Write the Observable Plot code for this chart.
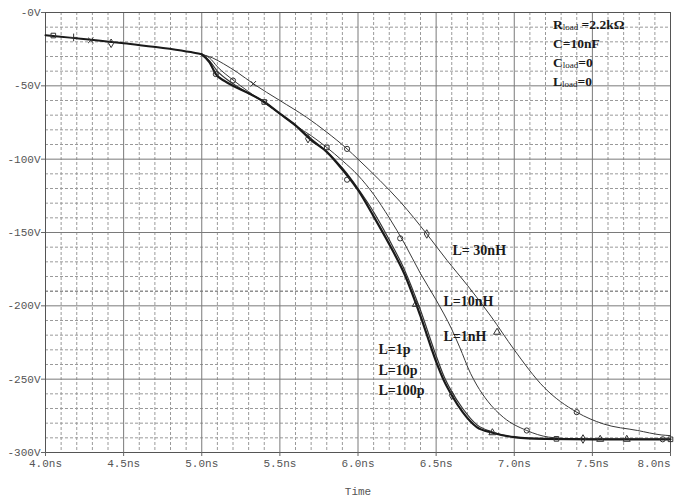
<!DOCTYPE html>
<html>
<head>
<meta charset="utf-8">
<script src="https://cdn.jsdelivr.net/npm/d3@7"></script>
<script src="https://cdn.jsdelivr.net/npm/@observablehq/plot@0.6"></script>
<style>
  html, body { margin: 0; padding: 0; background: #fff; }
  #chart { width: 678px; height: 499px; }
</style>
</head>
<body>
<div id="chart"></div>
<script>
// ---- data (time in ns, voltage in V) ----
const startT = [4.0, 4.5, 4.93, 5.0];
const startV = [-15.5, -21, -27, -28.5];

const groupT = [5.0, 5.05, 5.09, 5.15, 5.2, 5.3, 5.4, 5.5, 5.6, 5.7, 5.8, 5.9, 6.0, 6.1, 6.2, 6.3, 6.4, 6.5, 6.55, 6.6, 6.67, 6.76, 6.86, 7.0, 7.2, 7.5, 8.0];
const groupV = [-28.5, -34, -42, -47, -50, -55, -61, -69, -77, -87, -95, -107, -121, -139, -158, -179, -207, -238, -251, -261, -272.5, -282.7, -286.5, -289.5, -290.7, -291, -291];

const l1nT = [5.0, 5.05, 5.1, 5.2, 5.3, 5.4, 5.5, 5.6, 5.7, 5.8, 5.9, 6.0, 6.1, 6.2, 6.3, 6.4, 6.5, 6.55, 6.6, 6.67, 6.76, 6.86, 7.0, 7.2, 7.5, 8.0];
const l1nV = [-28.5, -33, -40, -48.5, -55, -61, -69, -77, -86, -95, -106, -120, -136, -155, -176, -203, -234, -248, -258.5, -270, -281, -286, -289.5, -290.7, -291, -291];

const l10nT = [5.0, 5.05, 5.1, 5.2, 5.3, 5.4, 5.5, 5.6, 5.7, 5.8, 5.9, 6.0, 6.1, 6.2, 6.3, 6.4, 6.5, 6.6, 6.65, 6.72, 6.76, 6.83, 6.93, 7.08, 7.22, 7.4, 8.0];
const l10nV = [-28.5, -31, -37, -46, -54, -61.5, -69, -77, -84, -92, -101, -111, -124, -140, -158, -178, -196, -216, -228, -246, -254, -265, -276, -285, -289.5, -290.8, -291];

const l30nT = [5.0, 5.07, 5.14, 5.23, 5.33, 5.5, 5.67, 5.8, 5.93, 6.0, 6.14, 6.27, 6.44, 6.57, 6.7, 6.85, 7.0, 7.19, 7.4, 7.57, 7.79, 7.94, 8.0];
const l30nV = [-28.5, -31, -35, -41, -48.6, -60, -71.4, -81.6, -93, -100, -114.5, -129, -151, -169, -186, -207, -230, -255.5, -272.5, -280.5, -285, -288, -288.5];

// markers along the traces
const markT = [4.05, 4.18, 4.29, 4.42, 5.09, 5.4, 5.68, 5.93, 6.37, 6.6, 6.86, 5.2, 5.8, 6.27, 7.08, 5.33, 5.93, 6.44, 6.89, 7.4, 7.27, 7.44, 7.55, 7.72, 7.95, 8.0];
const markV = [-15.7, -17, -19, -21, -42, -61, -86, -114, -199, -261, -286.5, -46.4, -92, -154, -285, -48.6, -93, -151, -218, -272.5, -290.7, -290.8, -291, -291, -291, -291];
const markS = ["square", "plus", "times", "diamond", "circle", "square", "diamond", "circle", "triangle", "diamond", "triangle", "circle", "square", "circle", "circle", "times", "circle", "diamond", "triangle", "circle", "square", "diamond", "triangle", "triangle", "circle", "square"];

// tick labels
const xTicks = [4.0, 4.5, 5.0, 5.5, 6.0, 6.5, 7.0, 7.5, 8.0];
const xTickLabels = ["4.0ns", "4.5ns", "5.0ns", "5.5ns", "6.0ns", "6.5ns", "7.0ns", "7.5ns", "8.0ns"];
const yTicks = [0, -50, -100, -150, -200, -250, -300];
const yTickLabels = ["-0V", "-50V", "-100V", "-150V", "-200V", "-250V", "-300V"];

// trace labels (anchored in data units)
const labelText = ["L= 30nH", "L=10nH", "L=1nH", "L=1p", "L=10p", "L=100p"];
const labelT = [6.605, 6.547, 6.547, 6.131, 6.131, 6.131];
const labelV = [-162.3, -197, -221, -229.8, -244, -257.7];

// parameter box
const infoMain = ["R", "C=10nF", "C", "L"];
const infoSub = ["load", "", "load", "load"];
const infoRest = [" =2.2k\u03A9", "", "=0", "=0"];
const infoT = 7.251;
const infoV = [-8.2, -21.1, -34.6, -47.5];

// ---- build tables ----
const toRows = (T, V) => T.map((t, i) => ({t, v: V[i]}));
const startRows = toRows(startT, startV);
const groupRows = toRows(groupT, groupV);
const l1nRows = toRows(l1nT, l1nV);
const l10nRows = toRows(l10nT, l10nV);
const l30nRows = toRows(l30nT, l30nV);
const markRows = markT.map((t, i) => ({t, v: markV[i], s: markS[i]}));
const labelRows = labelText.map((s, i) => ({s, t: labelT[i], v: labelV[i]}));

const minorX = d3.range(4.1, 8.0, 0.1).filter(d => Math.abs(d * 2 - Math.round(d * 2)) > 1e-6);
const minorY = d3.range(-10, -300, -10).filter(d => d % 50 !== 0 && d !== -190);

const lineStyle = {x: "t", y: "v", curve: "monotone-x"};
const monoFont = "Liberation Mono, DejaVu Sans Mono, monospace";

const plot = Plot.plot({
  width: 678,
  height: 499,
  marginLeft: 45,
  marginRight: 8,
  marginTop: 12,
  marginBottom: 47,
  style: {background: "#fff", overflow: "visible"},
  x: {domain: [4, 8]},
  y: {domain: [-300, 0]},
  symbol: {type: "identity"},
  marks: [
    // minor dashed grid
    Plot.ruleX(minorX, {stroke: "#9a9a9a", strokeWidth: 1, strokeDasharray: "3,2"}),
    Plot.ruleY(minorY, {stroke: "#9a9a9a", strokeWidth: 1, strokeDasharray: "3,2"}),
    Plot.ruleY([-190], {stroke: "#555", strokeWidth: 1, strokeDasharray: "3,2"}),
    // major solid grid
    Plot.ruleX(xTicks, {stroke: "#7a7a7a", strokeWidth: 1}),
    Plot.ruleY(yTicks, {stroke: "#7a7a7a", strokeWidth: 1}),
    Plot.frame({stroke: "#555", strokeWidth: 1}),
    // axes
    Plot.axisX(xTicks.slice(0, -1), {tickFormat: (d, i) => xTickLabels[i], tickSize: 4, tickPadding: 3, stroke: "#666",
      fontFamily: monoFont, fontSize: 11, fill: "#555", label: null}),
    Plot.axisX(xTicks.slice(-1), {tickFormat: () => xTickLabels[xTickLabels.length - 1], tickSize: 4, tickPadding: 3, stroke: "#666",
      textAnchor: "end", fontFamily: monoFont, fontSize: 11, fill: "#555", label: null}),
    Plot.axisY(yTicks, {tickFormat: (d, i) => yTickLabels[i], tickSize: 4, tickPadding: 1, stroke: "#666",
      fontFamily: monoFont, fontSize: 11, fill: "#555", label: null}),
    Plot.text(["Time"], {frameAnchor: "bottom", dy: 42, fontFamily: monoFont, fontSize: 11, fill: "#555"}),
    // traces
    Plot.line(startRows, {...lineStyle, stroke: "#1a1a1a", strokeWidth: 2}),
    Plot.line(l30nRows, {...lineStyle, stroke: "#3a3a3a", strokeWidth: 1}),
    Plot.line(l10nRows, {...lineStyle, stroke: "#3a3a3a", strokeWidth: 1}),
    Plot.line(l1nRows, {...lineStyle, stroke: "#333", strokeWidth: 1.2}),
    Plot.line(groupRows, {...lineStyle, stroke: "#1a1a1a", strokeWidth: 2.2}),
    Plot.dot(markRows, {x: "t", y: "v", symbol: "s", r: 2.6, stroke: "#333", strokeWidth: 1, fill: "none"}),
    // trace labels
    Plot.text(labelRows, {x: "t", y: "v", text: "s", textAnchor: "start", fontFamily: "Liberation Serif, Times New Roman, serif",
      fontWeight: "bold", fontSize: 14, fill: "#1a1a1a"})
  ]
});

document.getElementById("chart").appendChild(plot);

// make sure the last x tick label sits inside the frame
d3.select(plot).selectAll('g[aria-label="x-axis tick label"] text').each(function () {
  if (this.textContent === xTickLabels[xTickLabels.length - 1]) {
    d3.select(this).attr("text-anchor", "end");
    d3.select(this.parentNode).attr("text-anchor", "end");
  }
});

// parameter box with subscripts, positioned through the plot's scales
const sx = plot.scale("x"), sy = plot.scale("y");
const g = d3.select(plot).append("g")
  .attr("font-family", "Liberation Serif, Times New Roman, serif")
  .attr("font-weight", "bold")
  .attr("font-size", 13.5)
  .attr("text-anchor", "start")
  .attr("fill", "#1a1a1a");
infoMain.forEach((m, i) => {
  const txt = g.append("text")
    .attr("x", sx.apply(infoT))
    .attr("y", sy.apply(infoV[i]))
    .attr("dy", "0.35em")
    .attr("text-anchor", "start");
  txt.append("tspan").text(m);
  if (infoSub[i]) {
    txt.append("tspan").attr("font-size", 9).attr("font-weight", "normal").attr("dy", 1).text(infoSub[i]);
    txt.append("tspan").attr("dy", -1).text(infoRest[i]);
  }
});
</script>
</body>
</html>
